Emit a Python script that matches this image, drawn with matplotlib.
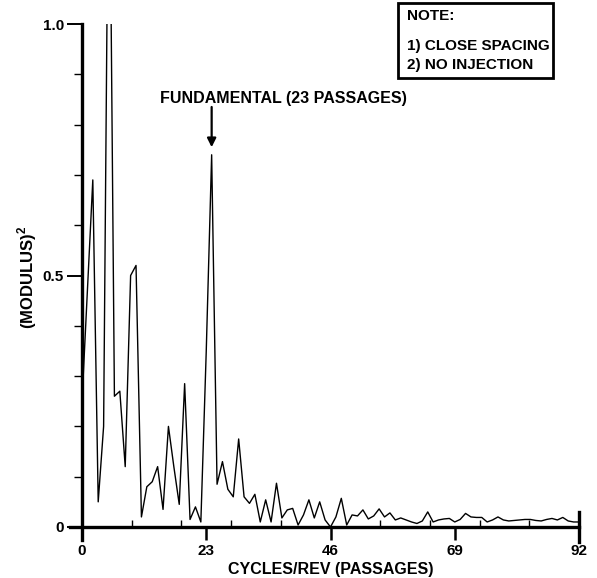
import matplotlib
matplotlib.use("Agg")
import matplotlib.pyplot as plt
from matplotlib.patches import Rectangle
import numpy as np

plt.rcParams['font.family'] = ['Liberation Sans', 'DejaVu Sans']
plt.rcParams['mathtext.fontset'] = 'custom'
plt.rcParams['mathtext.bf'] = 'Liberation Sans:bold'
plt.rcParams['mathtext.rm'] = 'Liberation Sans:bold'

# Data: cycles/rev vs (modulus)^2
cycles = list(range(0, 93))
modulus_sq = [
    0.25, 0.47, 0.69, 0.05, 0.20, 1.50, 0.26, 0.27, 0.12, 0.50,
    0.52, 0.02, 0.08, 0.09, 0.12, 0.035, 0.20, 0.12, 0.045, 0.285,
    0.015, 0.04, 0.01, 0.35, 0.74, 0.085, 0.13, 0.075, 0.06, 0.175,
    0.06, 0.047, 0.065, 0.01, 0.054, 0.01, 0.087, 0.018, 0.034, 0.037,
    0.004, 0.024, 0.054, 0.018, 0.05, 0.014, 0.0, 0.02, 0.057, 0.004,
    0.024, 0.022, 0.034, 0.016, 0.022, 0.036, 0.02, 0.028, 0.014, 0.018,
    0.014, 0.01, 0.007, 0.012, 0.03, 0.01, 0.014, 0.016, 0.017, 0.01,
    0.015, 0.027, 0.02, 0.019, 0.019, 0.01, 0.014, 0.02, 0.014, 0.012,
    0.013, 0.014, 0.015, 0.015, 0.013, 0.012, 0.015, 0.017, 0.014, 0.019,
    0.012, 0.01, 0.01,
]
x_major = [0, 23, 46, 69, 92]
x_minor = [9.2, 18.4, 27.6, 36.8, 55.2, 64.4, 73.6, 82.8]
y_major = [0, 0.5, 1.0]
y_major_labels = ['0', '0.5', '1.0']
y_minor = [0.1, 0.2, 0.3, 0.4, 0.6, 0.7, 0.8, 0.9]
fundamental = 24
note_lines = ['NOTE:', '1) CLOSE SPACING', '2) NO INJECTION']

W, H = 597, 578
fig = plt.figure(figsize=(W / 100, H / 100), dpi=100)
ax = fig.add_axes([82 / W, 1 - 527 / H, (579 - 82) / W, (527 - 24) / H])

ax.plot(cycles, modulus_sq, color='black', lw=1.0, clip_on=True)
ax.set_xlim(0, 92)
ax.set_ylim(0, 1.0)

ax.spines['top'].set_visible(False)
ax.spines['left'].set_linewidth(2.4)
ax.spines['bottom'].set_linewidth(2.4)
ax.spines['right'].set_linewidth(2.4)
ax.spines['right'].set_bounds(-0.03, 0.03)
ax.spines['left'].set_bounds(-0.025, 1.0)
ax.spines['bottom'].set_bounds(-2.2, 92)

ax.set_xticks(x_major)
ax.set_xticklabels([str(v) for v in x_major])
ax.set_xticks(x_minor, minor=True)
ax.set_yticks(y_major)
ax.set_yticklabels(y_major_labels)
ax.set_yticks(y_minor, minor=True)

ax.tick_params(axis='x', which='major', direction='out', length=9, width=1.8,
               labelsize=11, pad=3)
ax.tick_params(axis='x', which='minor', direction='in', length=5, width=1.0)
ax.tick_params(axis='y', which='major', direction='out', length=11, width=1.4,
               labelsize=11, pad=2)
ax.tick_params(axis='y', which='minor', direction='out', length=6, width=1.0)
for lab in ax.get_xticklabels() + ax.get_yticklabels():
    lab.set_fontweight('bold')

ax.set_xlabel('CYCLES/REV (PASSAGES)', fontsize=11.5, fontweight='bold', labelpad=3)
fig.text(27 / W, 1 - 277 / H, r'(MODULUS)$^{\mathbf{2}}$', rotation=90,
         fontsize=12, fontweight='bold', ha='center', va='center')

ax.annotate('', xy=(fundamental, 0.755), xytext=(fundamental, 0.835),
            arrowprops=dict(arrowstyle='-|>', color='black', lw=1.6,
                            mutation_scale=13, shrinkA=0, shrinkB=0))
ax.text(37.2, 0.852, 'FUNDAMENTAL (23 PASSAGES)', fontsize=11.5,
        fontweight='bold', ha='center', va='center')

# note box
fig.add_artist(Rectangle((398 / W, 1 - 78 / H), (553 - 398) / W, (78 - 3) / H,
                         transform=fig.transFigure, fill=False, lw=2.0,
                         edgecolor='black'))
ys = [16, 46, 65]
for t, yy in zip(note_lines, ys):
    fig.text(407 / W, 1 - yy / H, t, fontsize=11, fontweight='bold',
             ha='left', va='center')

fig.savefig('out.png', dpi=100)
